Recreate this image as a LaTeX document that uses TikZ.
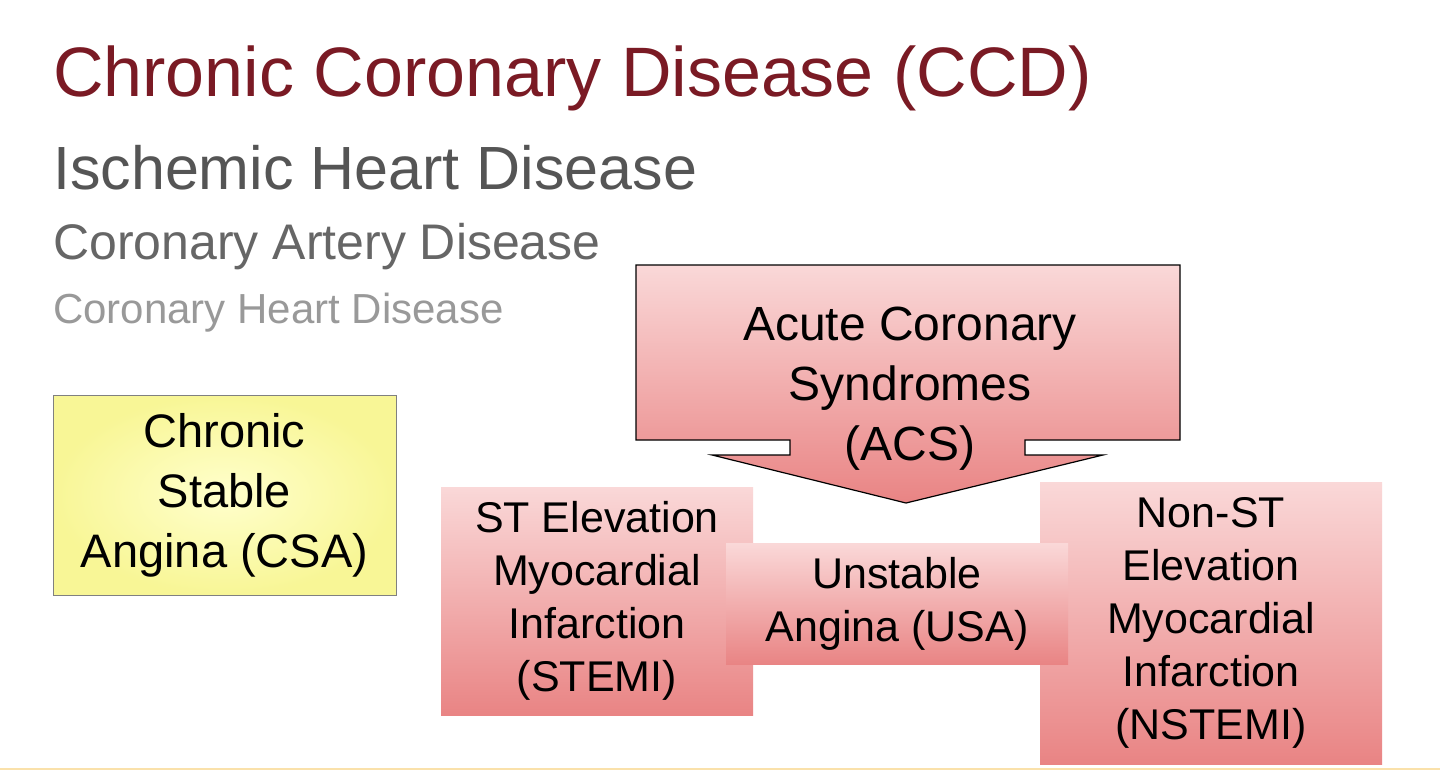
\documentclass[tikz,border=0pt]{standalone}
\usepackage{fontspec}
\setmainfont{Liberation Sans}
\definecolor{ttl}{HTML}{7A1A24}
\definecolor{g1}{HTML}{555555}
\definecolor{g2}{HTML}{666666}
\definecolor{g3}{HTML}{999999}
\definecolor{pk1}{HTML}{FAD8D8}
\definecolor{pk2}{HTML}{E98484}
\begin{document}
\begin{tikzpicture}[x=1pt,y=-1pt,
  pinkbox/.style={top color=pk1,bottom color=pk2,draw=none,align=center,font=\fontsize{43}{53}\selectfont},
  lbl/.style={anchor=west,inner sep=0}]
\useasboundingbox (0,0) rectangle (1440,771);
\fill[white] (0,0) rectangle (1440,771);
\draw[color={rgb,255:red,250;green,225;blue,170},line width=2pt] (0,769) -- (1440,769);
\node[lbl,text=ttl,font=\fontsize{70}{76}\selectfont] (t1) at (53,78) {Chronic Coronary Disease (CCD)};
\node[lbl,text=g1,font=\fontsize{61}{66}\selectfont] (t2) at (53,168) {Ischemic Heart Disease};
\node[lbl,text=g2,font=\fontsize{50}{56}\selectfont] (t3) at (53,247) {Coronary Artery Disease};
\node[lbl,text=g3,font=\fontsize{42}{46}\selectfont] (t4) at (53,313) {Coronary Heart Disease};
\node[draw=gray,inner color=yellow!20,outer color={rgb,255:red,248;green,246;blue,150},minimum width=343,minimum height=200,align=center,font=\fontsize{47}{60}\selectfont] (csa) at (224.5,495) {Chronic\\Stable\\Angina (CSA)};
\shade[top color=pk1,bottom color=pk2,draw=black,line width=1.2pt]
 (636,265) -- (1180,265) -- (1180,440) -- (1025,440) -- (1025,455) -- (1103,455) -- (906,503) -- (712,455) -- (790,455) -- (790,440) -- (636,440) -- cycle;
\node[align=center,font=\fontsize{48}{60}\selectfont] (acs) at (910,389) {Acute Coronary\\Syndromes\\(ACS)};
\node[pinkbox,minimum width=312,minimum height=228] (stemi) at (597,601) {ST Elevation\\Myocardial\\Infarction\\(STEMI)};
\node[pinkbox,minimum width=342,minimum height=282] (nstemi) at (1211,623) {Non-ST\\Elevation\\Myocardial\\Infarction\\(NSTEMI)};
\node[pinkbox,minimum width=342,minimum height=121] (usa) at (897,604) {Unstable\\Angina (USA)};
\end{tikzpicture}
\end{document}
